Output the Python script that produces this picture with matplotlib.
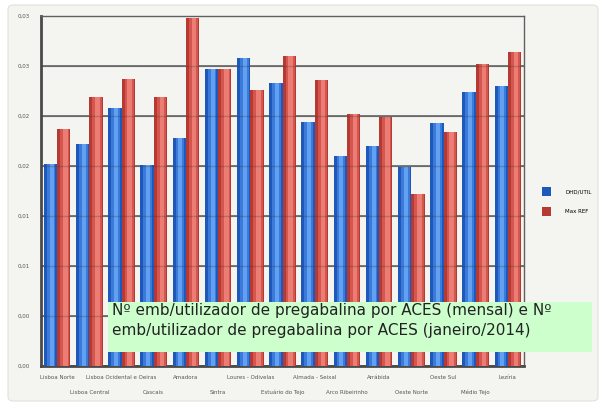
import numpy as np
import matplotlib
matplotlib.use("Agg")
import matplotlib.pyplot as plt
from matplotlib.patches import Rectangle, FancyBboxPatch

# ACES names and values
aces = ['Lisboa Norte', 'Lisboa Central', 'Lisboa Ocidental e Oeiras', 'Cascais',
        'Amadora', 'Sintra', 'Loures - Odivelas', 'Estuário do Tejo',
        'Almada - Seixal', 'Arco Ribeirinho', 'Arrábida', 'Oeste Norte',
        'Oeste Sul', 'Médio Tejo', 'Lezíria']
dhd_util = [0.0182, 0.0200, 0.0232, 0.0181, 0.0205, 0.0267, 0.0277, 0.0255,
            0.0220, 0.0189, 0.0198, 0.0179, 0.0219, 0.0247, 0.0252]
max_ref = [0.0213, 0.0242, 0.0258, 0.0242, 0.0313, 0.0267, 0.0248, 0.0279,
           0.0257, 0.0227, 0.0224, 0.0155, 0.0211, 0.0272, 0.0283]
y_ticks = [0.0, 0.0045, 0.009, 0.0135, 0.018, 0.0225, 0.027, 0.0315]
y_labels = ['0,00', '0,00', '0,01', '0,01', '0,02', '0,02', '0,03', '0,03']

fig = plt.figure(figsize=(6, 4.05), dpi=100)
fig.patch.set_facecolor('white')
# light panel behind the chart
panel = FancyBboxPatch((8/600, 4/405), 590/600, 396/405,
                       boxstyle='round,pad=0,rounding_size=0.01',
                       transform=fig.transFigure, facecolor='#f4f4f0',
                       edgecolor='#e2e2dc', lw=0.8, zorder=-5)
fig.patches.append(panel)

ax = fig.add_axes([41/600, 39/405, 483/600, 350/405])
ax.set_facecolor('#f4f4f0')

x = np.arange(len(aces))
w = 0.41
# cylinder look: dark base, lighter middle stripe, highlight
b1 = ax.bar(x - w/2, dhd_util, w, color='#1f58bb', zorder=3, label='DHD/UTIL')
ax.bar(x - w/2 + w*0.05, dhd_util, w*0.65, color='#3b7ad9', zorder=4)
ax.bar(x - w/2 + w*0.08, dhd_util, w*0.3, color='#62a0f2', zorder=5)
b2 = ax.bar(x + w/2, max_ref, w, color='#b53a34', zorder=3, label='Max REF')
ax.bar(x + w/2 + w*0.08, max_ref, w*0.7, color='#d4564f', zorder=4)
ax.bar(x + w/2 + w*0.12, max_ref, w*0.35, color='#ec7d75', zorder=5)

ax.set_xlim(-0.5, len(aces) - 0.5)
ax.set_ylim(0, y_ticks[-1])
ax.set_yticks(y_ticks)
ax.set_yticklabels(y_labels, fontsize=4, color='#555555')
ax.yaxis.grid(True, color='#7a7a7a', lw=1.4, zorder=1)
ax.set_axisbelow(True)
# gridlines show faintly through the bars
for yt in y_ticks[1:-1]:
    ax.axhline(yt, color='#333333', lw=1.0, alpha=0.25, zorder=6)
ax.tick_params(axis='both', length=0, pad=8)

ax.set_xticks(x)
ax.set_xticklabels([])
for i, name in enumerate(aces):
    yy = -0.032 if i % 2 == 0 else -0.075
    ax.text(i, yy, name, transform=ax.get_xaxis_transform(),
            ha='center', va='center', fontsize=4, color='#555555')

for side in ['left', 'bottom']:
    ax.spines[side].set_color('#4a4a4a')
    ax.spines[side].set_linewidth(2)
for side in ['top', 'right']:
    ax.spines[side].set_color('#606060')
    ax.spines[side].set_linewidth(1)

fig.legend(handles=[b1, b2], loc='upper left', bbox_to_anchor=(542/600, 1 - 187/405),
           frameon=False, fontsize=4, handlelength=1.6, handleheight=2.2,
           labelspacing=1.9, handletextpad=2.6, borderpad=0, borderaxespad=0)

# caption box
cap = Rectangle((108/600, 1 - 352/405), 484/600, 50/405,
                transform=fig.transFigure, facecolor='#ccffcc',
                edgecolor='none', zorder=5)
fig.patches.append(cap)
t = fig.text(112/600, 1 - 303/405,
             'Nº emb/utilizador de pregabalina por ACES (mensal) e Nº\n'
             'emb/utilizador de pregabalina por ACES (janeiro/2014)',
             fontsize=11, color='#222222', va='top', ha='left', linespacing=1.4,
             zorder=6)
t.set_clip_path(cap)

fig.savefig('out.png', dpi=100)
